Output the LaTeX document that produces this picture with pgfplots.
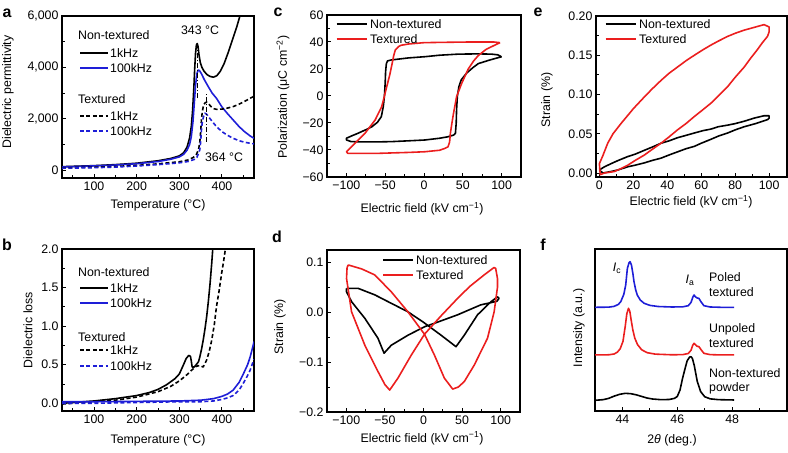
\documentclass[border=0pt]{standalone}
\usepackage{pgfplots}
\pgfplotsset{compat=1.18}
\usepackage{fontspec}
\setmainfont{Liberation Sans}
\definecolor{myblue}{RGB}{30,30,215}
\definecolor{myred}{RGB}{235,30,30}
\newcommand\fs{\fontsize{12.4}{14}\selectfont}
\tikzset{dsh/.style={dash pattern=on 4pt off 2.5pt}, lw/.style={line width=1.6pt}}
\pgfplotsset{
  every axis/.append style={
    scale only axis, anchor=south west,
    width=192bp, height=162bp,
    tick align=inside, tick pos=left,
    major tick length=4bp, minor tick length=2.5bp,
    axis line style={line width=1.2pt},
    every tick/.style={black, line width=1pt},
    tick label style={font=\fs},
  },
  every axis plot/.append style={line width=1.6pt, line join=round},
}
\begin{document}
\begin{tikzpicture}
\useasboundingbox (0,0) rectangle (788bp,453bp);
% ---------------- a ----------------
\begin{axis}[at={(62bp,275bp)}, xmin=25, xmax=475, ymin=-300, ymax=6000,
  xtick={100,200,300,400}, xticklabels={100,200,300,400}, minor xtick={50,150,250,350,450},
  ytick={0,2000,4000,6000}, yticklabels={0,{2,000},{4,000},{6,000}},
  minor ytick={1000,3000,5000}]
\addplot[black,lw] coordinates {(25,140)(100,180)(150,220)(200,275)(250,370)(280,460)(300,560)(310,680)(318,900)(324,1250)(328,1700)(331,2300)(334,3200)(336,3950)(338,4550)(340,4870)(342,4930)(344,4800)(346,4500)(349,4200)(353,4000)(358,3850)(365,3720)(372,3650)(380,3620)(388,3680)(396,3850)(405,4150)(415,4600)(425,5100)(435,5600)(442,6000)(450,6500)};
\addplot[myblue,lw] coordinates {(25,130)(100,170)(150,205)(200,255)(250,340)(280,430)(300,520)(310,620)(318,780)(324,1000)(328,1300)(332,1900)(335,2600)(338,3300)(341,3750)(344,3900)(347,3880)(351,3780)(359,3510)(368,3250)(377,3000)(387,2800)(400,2460)(413,2200)(426,1960)(440,1700)(453,1500)(466,1335)(475,1245)};
\addplot[black,lw,dsh] coordinates {(25,100)(100,120)(150,150)(200,190)(250,250)(280,300)(300,330)(320,400)(333,500)(340,620)(345,800)(348,1100)(350,1500)(352,2000)(354,2300)(357,2550)(361,2630)(364,2650)(368,2600)(374,2480)(380,2400)(387,2370)(400,2380)(413,2420)(426,2475)(440,2570)(453,2680)(466,2800)(475,2880)};
\addplot[myblue,lw,dsh] coordinates {(25,80)(100,100)(150,125)(200,165)(250,220)(280,260)(300,290)(320,340)(335,420)(341,500)(345,650)(348,800)(350,1100)(352,1600)(354,1900)(357,2100)(360,2220)(364,2180)(370,2050)(378,1880)(387,1700)(400,1500)(413,1360)(426,1245)(440,1150)(453,1090)(466,1050)(475,1030)};
\addplot[black,line width=1pt,dash pattern=on 5pt off 2pt on 1pt off 2pt] coordinates {(343,2800)(343,5000)};
\addplot[black,line width=1pt,dash pattern=on 5pt off 2pt on 1pt off 2pt] coordinates {(364,1100)(364,2950)};
\end{axis}
% ---------------- b ----------------
\begin{axis}[at={(62bp,42bp)}, xmin=25, xmax=475, ymin=-0.1, ymax=2.0,
  xtick={100,200,300,400}, xticklabels={100,200,300,400}, minor xtick={50,150,250,350,450},
  ytick={0,0.5,1,1.5,2}, yticklabels={0.0,0.5,1.0,1.5,2.0},
  minor ytick={0.25,0.75,1.25,1.75}]
\addplot[black,lw] coordinates {(25,0.0)(50,0.01)(100,0.03)(150,0.06)(200,0.10)(230,0.14)(250,0.18)(270,0.24)(290,0.32)(300,0.38)(309,0.49)(316,0.58)(322,0.62)(326,0.61)(328,0.55)(330,0.47)(335,0.47)(341,0.51)(345,0.54)(348,0.60)(352,0.70)(356,0.82)(360,0.96)(364,1.12)(368,1.32)(372,1.55)(376,1.82)(379,2.05)};
\addplot[black,lw,dsh] coordinates {(25,-0.01)(100,0.02)(150,0.04)(200,0.08)(250,0.15)(280,0.22)(300,0.29)(320,0.38)(329,0.43)(340,0.48)(348,0.49)(356,0.47)(364,0.56)(370,0.67)(376,0.82)(382,1.02)(387,1.25)(393,1.45)(399,1.68)(404,1.85)(408,2.0)(410,2.1)};
\addplot[myblue,lw] coordinates {(25,0.02)(100,0.02)(200,0.025)(300,0.03)(350,0.04)(380,0.06)(400,0.09)(413,0.12)(426,0.17)(440,0.27)(450,0.38)(460,0.50)(466,0.60)(473,0.75)(475,0.80)};
\addplot[myblue,lw,dsh] coordinates {(25,0.0)(100,0.0)(200,0.01)(300,0.02)(350,0.02)(380,0.03)(400,0.05)(413,0.07)(426,0.10)(440,0.17)(450,0.26)(460,0.36)(466,0.43)(473,0.54)(475,0.57)};
\end{axis}
% ---------------- c ----------------
\begin{axis}[at={(327bp,276bp)}, width=194bp, xmin=-125, xmax=125, ymin=-60, ymax=60,
  xtick={-100,-50,0,50,100}, xticklabels={−100,−50,0,50,100}, minor xtick={-75,-25,25,75},
  ytick={-60,-40,-20,0,20,40,60}, yticklabels={−60,−40,−20,0,20,40,60},
  minor ytick={-50,-30,-10,10,30,50}]
\addplot[black,lw] coordinates {(100,29)(95,30.5)(87,31)(70,31.2)(44,31)(20,30.2)(1,29.1)(-20,28.2)(-42,26.7)(-47,26)(-48.5,24)(-49.5,18)(-50,10)(-51,0)(-52.5,-8)(-55,-15.3)(-60,-19.5)(-67,-22.7)(-75,-25)(-85,-27.6)(-93,-29.5)(-100,-31.3)(-100,-32.5)(-94,-33.8)(-80,-34)(-60,-34)(-42,-33.8)(-20,-33.2)(1,-32.6)(20,-31.3)(30,-30.3)(38,-29)(40.5,-27.6)(41.5,-20)(42,-10)(43,0)(45,7)(48,12)(55,17)(63,21)(70,24)(85,26.7)(97,28.6)(100,29)};
\addplot[myred,lw] coordinates {(98,39.5)(90,40)(60,40)(20,39.7)(0,39.5)(-20,38.5)(-30,37.5)(-33,36.5)(-37,34)(-39,30)(-41,24.2)(-44,16)(-48,6.9)(-54.5,-7.9)(-63,-17.8)(-76,-27.6)(-89,-35)(-100,-41.3)(-98,-42.5)(-85,-42.5)(-60,-42.5)(-20,-41.8)(1,-41.3)(20,-40.2)(27,-38.8)(31,-37.6)(33,-34)(34,-27.6)(36,-20)(38,-13)(42,-0.5)(48.6,9.4)(57,20)(64,26)(70,30)(80,34.5)(87,36.5)(95,38.7)(98,39.5)};
\end{axis}
% ---------------- d ----------------
\begin{axis}[at={(327bp,41bp)}, width=193bp, xmin=-125, xmax=125, ymin=-0.2, ymax=0.125,
  xtick={-100,-50,0,50,100}, xticklabels={−100,−50,0,50,100}, minor xtick={-75,-25,25,75},
  ytick={-0.2,-0.1,0,0.1}, yticklabels={−0.2,−0.1,0.0,0.1},
  minor ytick={-0.15,-0.05,0.05}]
\addplot[black,lw] coordinates {(-99.7,0.048)(-84.6,0.048)(-63.1,0.035)(-41.7,0.018)(-20.2,0.001)(-0.9,-0.019)(22.8,-0.046)(42.1,-0.069)(52.8,-0.046)(70,-0.005)(87.2,0.021)(95.8,0.031)(97.9,0.028)(95,0.022)(74.3,0.015)(44.2,-0.005)(14.2,-0.022)(1.3,-0.029)(-20.2,-0.046)(-41.7,-0.066)(-51.1,-0.082)(-59,-0.052)(-76,-0.012)(-93,0.021)(-99.7,0.041)(-99.7,0.048)};
\addplot[myred,lw] coordinates {(-97.5,0.095)(-80,0.087)(-63.1,0.075)(-41.7,0.041)(-20.2,0.001)(-3,-0.035)(1.3,-0.044)(14.2,-0.086)(27,-0.132)(37.8,-0.154)(45,-0.150)(52.8,-0.139)(65.7,-0.106)(82.9,-0.052)(91.5,0.001)(95.8,0.050)(95.8,0.068)(93.5,0.088)(91.5,0.090)(78.6,0.075)(60,0.052)(44.2,0.028)(22.8,-0.007)(1.3,-0.044)(-15.9,-0.086)(-33.1,-0.132)(-43.8,-0.156)(-50,-0.145)(-58.9,-0.119)(-76,-0.066)(-93.2,0.001)(-99.7,0.068)(-99,0.090)(-97.5,0.095)};
\end{axis}
% ---------------- e ----------------
\begin{axis}[at={(596bp,276bp)}, width=191bp, height=161bp, xmin=-2, xmax=110.5, ymin=-0.005, ymax=0.20,
  xtick={0,20,40,60,80,100}, xticklabels={0,20,40,60,80,100}, minor xtick={10,30,50,70,90},
  ytick={0,0.05,0.1,0.15,0.2}, yticklabels={0.00,0.05,0.10,0.15,0.20},
  minor ytick={0.025,0.075,0.125,0.175}]
\addplot[black,lw] coordinates {(0,0.004)(3,0.008)(6.9,0.012)(11,0.016)(16.7,0.021)(21,0.024)(26.5,0.029)(31,0.033)(36.3,0.038)(41,0.041)(46,0.045)(51,0.048)(55.9,0.051)(61,0.054)(65.7,0.056)(70,0.059)(75.5,0.061)(80,0.063)(85.3,0.066)(91.2,0.070)(97,0.073)(100,0.073)(100,0.070)(99,0.068)(92,0.063)(85.3,0.059)(80,0.055)(75.5,0.051)(70,0.047)(65.7,0.043)(60,0.038)(55.9,0.034)(51,0.031)(46,0.027)(41,0.023)(36.3,0.019)(31,0.016)(26.5,0.013)(21,0.010)(16.7,0.008)(11,0.004)(6.9,0.002)(2,0.0)(0,0.004)};
\addplot[myred,lw] coordinates {(0,0.012)(2,0.022)(4.9,0.038)(8,0.050)(12.7,0.063)(20,0.082)(26.5,0.097)(31,0.107)(36.3,0.118)(41,0.127)(46,0.135)(51,0.143)(55.9,0.150)(61,0.157)(65.7,0.163)(70,0.168)(75.5,0.174)(80,0.178)(85.3,0.182)(92,0.186)(97,0.189)(100,0.186)(100,0.180)(99,0.174)(96,0.166)(93,0.157)(89,0.146)(85.3,0.135)(80,0.122)(75.5,0.110)(70,0.098)(65.7,0.089)(60,0.079)(55.9,0.072)(51,0.063)(46,0.055)(41,0.046)(36.3,0.038)(31,0.030)(26.5,0.023)(21,0.016)(16.7,0.010)(12,0.005)(8.8,0.002)(2.9,0.0)(0.5,-0.002)(0,0.012)};
\end{axis}
% ---------------- f ----------------
\begin{axis}[at={(595bp,42bp)}, xmin=43, xmax=50, ymin=0, ymax=1,
  xtick={44,46,48}, xticklabels={44,46,48}, minor xtick={45,47,49}, ytick=\empty]
\addplot[myblue,lw] coordinates {(43.0,0.640)(43.5,0.641)(43.7,0.646)(43.85,0.658)(43.94,0.675)(44.05,0.72)(44.12,0.778)(44.18,0.88)(44.24,0.915)(44.28,0.922)(44.33,0.90)(44.38,0.85)(44.42,0.80)(44.48,0.75)(44.54,0.716)(44.65,0.685)(44.79,0.665)(45.0,0.652)(45.3,0.645)(45.8,0.642)(46.2,0.643)(46.4,0.650)(46.5,0.67)(46.56,0.70)(46.61,0.716)(46.66,0.705)(46.72,0.698)(46.79,0.695)(46.86,0.675)(46.97,0.650)(47.2,0.642)(47.6,0.640)(48.07,0.640)};
\addplot[myred,lw] coordinates {(43.0,0.346)(43.5,0.347)(43.7,0.352)(43.82,0.364)(43.92,0.385)(44.02,0.43)(44.1,0.52)(44.16,0.60)(44.22,0.634)(44.27,0.615)(44.32,0.56)(44.38,0.50)(44.45,0.45)(44.55,0.41)(44.7,0.378)(44.9,0.360)(45.2,0.351)(45.8,0.347)(46.2,0.348)(46.4,0.355)(46.5,0.375)(46.56,0.405)(46.61,0.418)(46.66,0.41)(46.72,0.40)(46.79,0.397)(46.86,0.38)(46.97,0.356)(47.2,0.348)(47.6,0.346)(48.07,0.346)};
\addplot[black,lw] coordinates {(43.0,0.066)(43.3,0.07)(43.5,0.078)(43.7,0.092)(43.9,0.103)(44.1,0.109)(44.3,0.107)(44.5,0.100)(44.7,0.090)(44.9,0.080)(45.1,0.074)(45.4,0.070)(45.7,0.071)(45.9,0.078)(46.0,0.09)(46.1,0.13)(46.19,0.20)(46.28,0.26)(46.36,0.31)(46.45,0.333)(46.5,0.335)(46.55,0.325)(46.62,0.28)(46.73,0.181)(46.85,0.12)(47.0,0.088)(47.2,0.075)(47.5,0.070)(48.07,0.068)};
\end{axis}
% ---------------- labels ----------------
\begin{scope}[every node/.style={font=\fs, inner sep=0pt}]
\node[font=\fontsize{16}{18}\selectfont\bfseries] at (7bp,440bp) {a};
\node[font=\fontsize{16}{18}\selectfont\bfseries] at (7bp,208bp) {b};
\node[font=\fontsize{16}{18}\selectfont\bfseries] at (278bp,441bp) {c};
\node[font=\fontsize{16}{18}\selectfont\bfseries] at (277bp,216bp) {d};
\node[font=\fontsize{16}{18}\selectfont\bfseries] at (538bp,441bp) {e};
\node[font=\fontsize{16}{18}\selectfont\bfseries] at (543bp,208bp) {f};
% axis labels
\node[rotate=90] at (8bp,361bp) {Dielectric permittivity};
\node at (158bp,248bp) {Temperature (°C)};
\node[rotate=90] at (28bp,123bp) {Dielectric loss};
\node at (158bp,13bp) {Temperature (°C)};
\node[rotate=90] at (283bp,356bp) {Polarization (μC cm\textsuperscript{−2})};
\node at (422bp,244bp) {Electric field (kV cm\textsuperscript{−1})};
\node[rotate=90] at (280bp,126bp) {Strain (\%)};
\node at (422bp,14.7bp) {Electric field (kV cm\textsuperscript{−1})};
\node[rotate=90] at (547bp,353bp) {Strain (\%)};
\node at (691bp,251bp) {Electric field (kV cm\textsuperscript{−1})};
\node[rotate=90] at (579bp,125bp) {Intensity (a.u.)};
\node at (672bp,13bp) {2\textit{θ} (deg.)};
% panel a annotations
\node at (200bp,423bp) {343 °C};
\node at (224bp,296bp) {364 °C};
% panel a legend
\node[anchor=west] at (78bp,418bp) {Non-textured};
\draw[black,lw] (80bp,400bp) -- (108bp,400bp);
\node[anchor=west] at (110bp,400bp) {1kHz};
\draw[myblue,lw] (80bp,385bp) -- (108bp,385bp);
\node[anchor=west] at (110bp,385bp) {100kHz};
\node[anchor=west] at (78bp,354bp) {Textured};
\draw[black,lw,dsh] (80bp,337bp) -- (108bp,337bp);
\node[anchor=west] at (110bp,337bp) {1kHz};
\draw[myblue,lw,dsh] (80bp,322bp) -- (108bp,322bp);
\node[anchor=west] at (110bp,322bp) {100kHz};
% panel b legend
\node[anchor=west] at (78bp,181bp) {Non-textured};
\draw[black,lw] (80bp,165bp) -- (108bp,165bp);
\node[anchor=west] at (110bp,165bp) {1kHz};
\draw[myblue,lw] (80bp,150bp) -- (108bp,150bp);
\node[anchor=west] at (110bp,150bp) {100kHz};
\node[anchor=west] at (78bp,116bp) {Textured};
\draw[black,lw,dsh] (80bp,103bp) -- (108bp,103bp);
\node[anchor=west] at (110bp,103bp) {1kHz};
\draw[myblue,lw,dsh] (80bp,87bp) -- (108bp,87bp);
\node[anchor=west] at (110bp,87bp) {100kHz};
% panel c legend
\draw[black,lw] (336.7bp,429bp) -- (366.7bp,429bp);
\node[anchor=west] at (370bp,429bp) {Non-textured};
\draw[myred,lw] (336.7bp,414bp) -- (366.7bp,414bp);
\node[anchor=west] at (370bp,414bp) {Textured};
% panel d legend
\draw[black,lw] (383.3bp,193bp) -- (413.3bp,193bp);
\node[anchor=west] at (416bp,193bp) {Non-textured};
\draw[myred,lw] (383.3bp,178bp) -- (413.3bp,178bp);
\node[anchor=west] at (416bp,178bp) {Textured};
% panel e legend
\draw[black,lw] (605.7bp,429bp) -- (635.7bp,429bp);
\node[anchor=west] at (639bp,429bp) {Non-textured};
\draw[myred,lw] (605.7bp,414bp) -- (635.7bp,414bp);
\node[anchor=west] at (639bp,414bp) {Textured};
% panel f texts
\node at (617bp,185bp) {\textit{I}\textsubscript{c}};
\node at (690bp,173bp) {\textit{I}\textsubscript{a}};
\node[anchor=west] at (709bp,176.3bp) {Poled};
\node[anchor=west] at (709bp,161.3bp) {textured};
\node[anchor=west] at (709bp,124bp) {Unpoled};
\node[anchor=west] at (709bp,109.5bp) {textured};
\node[anchor=west] at (709bp,79.5bp) {Non-textured};
\node[anchor=west] at (709bp,64.5bp) {powder};
\end{scope}
\end{tikzpicture}
\end{document}
